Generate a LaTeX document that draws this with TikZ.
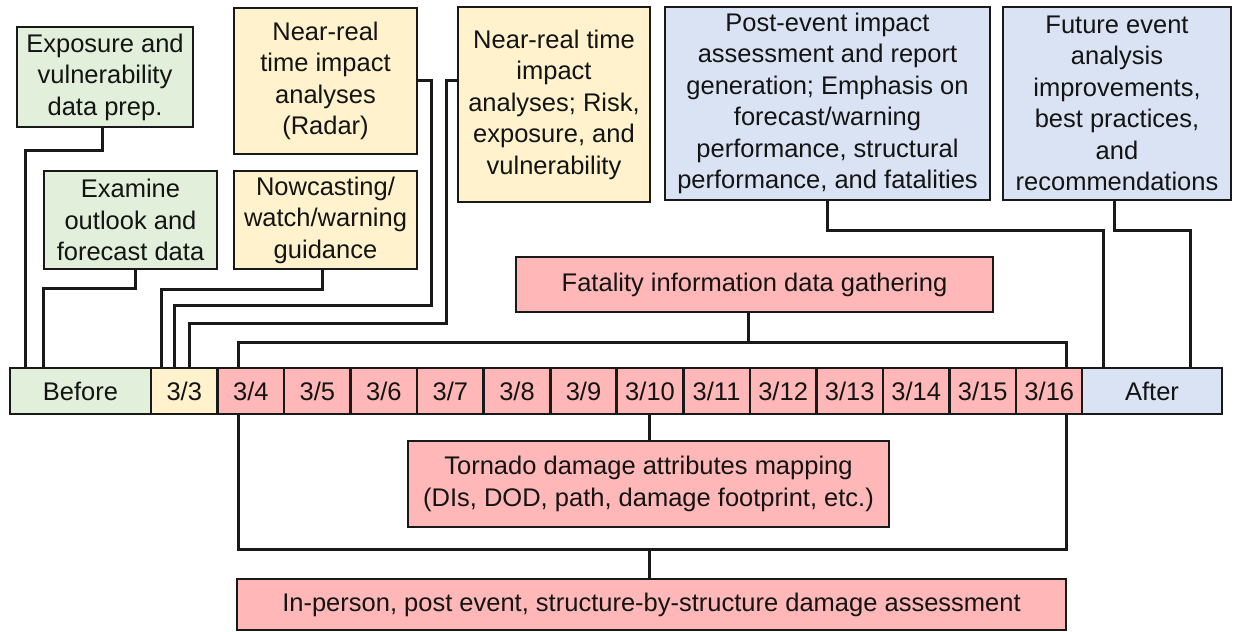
\documentclass[tikz,border=0pt]{standalone}
\usepackage{fontspec}
\setmainfont{Liberation Sans}
\definecolor{gfill}{RGB}{226,239,218}
\definecolor{yfill}{RGB}{255,242,204}
\definecolor{bfill}{RGB}{218,227,243}
\definecolor{pfill}{RGB}{255,183,183}
\definecolor{edge}{RGB}{25,25,25}
\definecolor{txt}{RGB}{20,20,20}
\begin{document}
\begin{tikzpicture}[x=1pt,y=-1pt,
  box/.style={draw=edge, line width=2.6pt, inner sep=0pt, align=center,
    text=txt, font=\fontsize{25.5}{31.5}\selectfont},
  cell/.style={box, minimum height=46pt},
  conn/.style={draw=edge, line width=3pt, line join=miter}]
\useasboundingbox (0,0) rectangle (1235,632);

% top boxes
\node[box, fill=gfill, minimum width=176pt, minimum height=100pt] (exp) at (105,77)
  {Exposure and\\vulnerability\\data prep.};
\node[box, fill=gfill, minimum width=173pt, minimum height=98pt] (exam) at (130.5,220)
  {Examine\\outlook and\\forecast data};
\node[box, fill=yfill, minimum width=183pt, minimum height=146pt] (radar) at (325.5,81)
  {Near-real\\time impact\\analyses\\(Radar)};
\node[box, fill=yfill, minimum width=183pt, minimum height=98pt] (now) at (325.5,220)
  {Nowcasting/\\watch/warning\\guidance};
\node[box, fill=yfill, minimum width=192pt, minimum height=195pt] (risk) at (554,104.5)
  {Near-real time\\impact\\analyses; Risk,\\exposure, and\\vulnerability};
\node[box, fill=bfill, minimum width=325pt, minimum height=193pt] (post) at (827.5,103.5)
  {Post-event impact\\assessment and report\\generation; Emphasis on\\forecast/warning\\performance, structural\\performance, and fatalities};
\node[box, fill=bfill, minimum width=228pt, minimum height=193pt] (fut) at (1117,103.5)
  {Future event\\analysis\\improvements,\\best practices,\\and\\recommendations};
\node[box, fill=pfill, minimum width=477pt, minimum height=55pt] (fat) at (754.5,284.5)
  {Fatality information data gathering};

% timeline
\node[cell, fill=gfill, minimum width=141pt] (before) at (80.5,391) {Before};
\node[cell, fill=yfill, minimum width=66.54pt] (d3) at (184.27,391) {3/3};
\foreach \i in {4,...,16}{
  \pgfmathsetmacro\cx{151+(\i-3)*66.54+33.27}
  \node[cell, fill=pfill, minimum width=66.54pt] (d\i) at (\cx,391) {3/\i};
}
\node[cell, fill=bfill, minimum width=140pt] (after) at (1152,391) {After};

% bottom boxes
\node[box, fill=pfill, minimum width=481pt, minimum height=86pt] (torn) at (648.5,484)
  {Tornado damage attributes mapping\\(DIs, DOD, path, damage footprint, etc.)};
\node[box, fill=pfill, minimum width=829pt, minimum height=51pt] (inp) at (651.5,604.5)
  {In-person, post event, structure-by-structure damage assessment};

% connector bend points
\coordinate (e1) at (102,150); \coordinate (e2) at (25,150);
\coordinate (x1) at (135,288); \coordinate (x2) at (43,288);
\coordinate (n1) at (322,289); \coordinate (n2) at (161,289);
\coordinate (r1) at (431,80);  \coordinate (r2) at (431,305); \coordinate (r3) at (174,305);
\coordinate (k1) at (446,80);  \coordinate (k2) at (446,323); \coordinate (k3) at (189,323);
\coordinate (f1) at (748,342); \coordinate (fl) at (238,342); \coordinate (fr) at (1066,342);
\coordinate (p1) at (827,230); \coordinate (p2) at (1103,230);
\coordinate (u1) at (1114,230); \coordinate (u2) at (1190,230);
\coordinate (m1) at (649,0);
\coordinate (bl) at (238,549); \coordinate (bm) at (649,549); \coordinate (br) at (1066,549);

% connectors above the timeline
\draw[conn] (e1 |- exp.south) -- (e1) -- (e2) -- (e2 |- before.north);
\draw[conn] (x1 |- exam.south) -- (x1) -- (x2) -- (x2 |- before.north);
\draw[conn] (n1 |- now.south) -- (n1) -- (n2) -- (n2 |- d3.north);
\draw[conn] (r1 -| radar.east) -- (r1) -- (r2) -- (r3) -- (r3 |- d3.north);
\draw[conn] (k1 -| risk.west) -- (k1) -- (k2) -- (k3) -- (k3 |- d3.north);
\draw[conn] (f1 |- fat.south) -- (f1);
\draw[conn] (fl |- d4.north) -- (fl) -- (fr) -- (fr |- d16.north);
\draw[conn] (p1 |- post.south) -- (p1) -- (p2) -- (p2 |- after.north);
\draw[conn] (u1 |- fut.south) -- (u1) -- (u2) -- (u2 |- after.north);

% connectors below the timeline
\draw[conn] (m1 |- d10.south) -- (m1 |- torn.north);
\draw[conn] (bl |- d4.south) -- (bl) -- (br) -- (br |- d16.south);
\draw[conn] (bm) -- (bm |- inp.north);
\end{tikzpicture}
\end{document}
